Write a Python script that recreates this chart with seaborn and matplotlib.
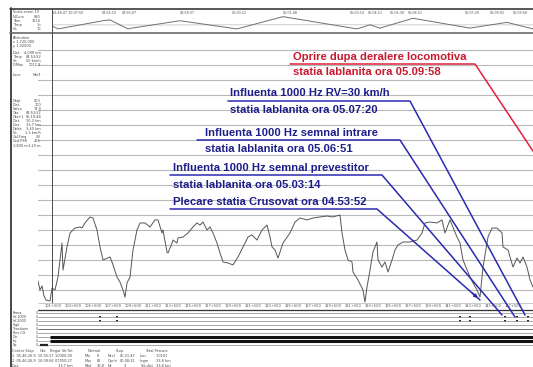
import matplotlib
matplotlib.use("Agg")
import matplotlib.pyplot as plt
import pandas as pd
import seaborn as sns

sns.set_theme(style="white")
plt.rcParams["font.family"] = ["DejaVu Sans"]

W, H = 533, 367

# ---- speed record: position along the line (km) and speed (km/h) ----
dist_km = [0.0, 0.2, 0.4, 0.6, 0.8, 1.2, 1.4, 1.7, 2.0, 2.4, 2.5, 2.9, 3.2, 3.7, 4.2, 4.4, 4.7,
           5.2, 5.5, 5.9, 6.2, 6.5, 7.2, 7.4, 7.9, 8.2, 8.5, 8.7, 8.9, 9.2, 9.5, 9.9, 10.2, 10.7,
           11.2, 11.7, 12.0, 12.4, 12.5, 12.9, 13.0, 13.4, 13.5, 13.9, 14.0, 14.5, 15.0, 15.5,
           15.9, 16.2, 16.5, 16.9, 17.2, 17.5, 17.9, 18.2, 18.5, 19.0, 19.5, 20.0, 20.5, 21.0,
           21.4, 21.9, 22.4, 22.9, 23.2, 23.4, 23.7, 24.0, 24.5, 25.2, 25.7, 26.2, 26.9, 27.5,
           28.2, 28.9, 29.5, 30.2, 30.4, 30.7, 31.0, 31.4, 31.5, 32.0, 32.5, 32.7, 32.9, 33.2,
           33.5, 33.9, 34.0, 34.4, 34.7, 35.0, 35.4, 35.7, 36.0, 36.5, 37.2, 37.9, 38.4, 38.7,
           39.2, 39.9, 40.4, 40.7, 41.2, 41.9, 42.2, 42.5, 43.2, 43.5, 43.9, 44.2, 44.5, 45.0,
           45.4, 45.9, 46.4, 46.5, 47.0, 47.5, 47.9, 48.2, 48.5, 48.9, 49.2, 49.5]
speed_kmh = [16, 10, 12.7, 6, 3.3, 2.7, 11.3, 10, 18.7, 41.3, 23.3, 38.7, 48, 51.3, 52, 51.3, 54.7,
             58.7, 58, 50, 38.7, 30, 32, 28.7, 18.7, 15.3, 10, 5.3, 14.7, 18.7, 36.7, 50, 54.7, 54.7,
             52, 56.7, 56.7, 48, 50, 35.3, 34.7, 41.3, 43.3, 41.3, 44.7, 45.3, 48, 52,
             54.7, 53.3, 55.3, 50, 52, 48, 41.3, 34.7, 28.7, 28, 26.7, 32, 38.7, 45.3,
             46.7, 43.3, 50, 53.3, 45.3, 38.7, 36.7, 31.3, 41.3, 48, 55.3, 58, 56.7, 58,
             58.7, 59.3, 58.7, 60, 48, 36.7, 30, 28.7, 22, 16.7, 10, 2, 12, 23.3,
             35.3, 42, 30, 25.3, 28.7, 22, 30, 36.7, 40, 42, 42, 43.3, 48, 54.7,
             55.3, 54.7, 56.7, 48, 56.7, 45.3, 41.3, 30, 18.7, 14.7, 10, 5.3, 25.3, 45.3,
             51.3, 51.3, 48, 38.7, 36.7, 25.3, 31.3, 28, 32, 25.3, 16.7, 12]

# ---- altitude profile of the route (m) ----
prof_km = [1.5, 2.0, 6.5, 7.2, 9.0, 9.4, 14.2, 19.9, 24.5, 31.9, 33.2, 34.2, 37.5, 43.2, 46.9, 49.5]
prof_alt = [280, 250, 350, 360, 250, 260, 350, 250, 400, 250, 300, 260, 380, 260, 330, 250]
prof2_km = [1.5, 12.0, 25.0, 38.0, 49.5]
prof2_alt = [300, 298, 302, 300, 299]

# ---- digital channels ----
channel_names = ["Frana", "Inf.1000", "Inf.2000", "Vigil.", "Tractiune", "Pres.CG", "Dir.", "Inj.", "Sp."]
event_km = [6.2, 7.9, 42.2, 43.2, 46.7, 47.9, 49.0]
event_ch1 = [1, 1, 1, 1, 1, 1, 1]
event_ch2 = [2, 2, 2, 2, 2, 2, 2]
active_ch = [6, 7]
active_from_km = 1.2
active_to_km = 49.5

# ---- position scale labels under the speed trace ----
scale_km = [1.5 + 2 * i for i in range(24)]
scale_labels = ["%d+%03d" % (100 + int(k), int(round((k % 1) * 1000))) for k in scale_km]

# ---- time marks above the altitude profile ----
time_marks_km = [1.4, 6.4, 8.4, 14.2, 19.4, 24.5, 31.2, 33.0, 35.2, 37.0, 42.7, 45.2, 47.5]
time_marks = ["04:48:47 10:07:50", "04:55:10", "04:56:07", "04:58:37", "05:00:12", "05:01:48",
              "05:03:14", "05:04:11", "05:05:30", "05:06:51", "05:07:20",
              "05:09:02", "05:09:58"]

# ---- callouts ----
red_lines = ["Oprire dupa deralere locomotiva", "statia Iablanita ora 05.09:58"]
blue_notes = [
    ["Influenta 1000 Hz RV=30 km/h", "statia Iablanita ora 05.07:20"],
    ["Influenta 1000 Hz semnal intrare", "statia Iablanita ora 05.06:51"],
    ["Influenta 1000 Hz semnal prevestitor", "statia Iablanita ora 05.03:14"],
    ["Plecare statia Crusovat ora 04.53:52"],
]

# ---- side panel and summary table ----
side_rows = [
    (12, "Scala zoom 10", ""), (17, "N.Curs", "880"), (21, "Tren", "3510"), (25, "Timp", "1h"),
    (29, "Vit.", "10"), (38, "Altitudine", ""), (42, "x 1:720,000", ""), (46, "y 1:32000", ""),
    (53, "Dist.", "4,098 km"), (57, "Timp", "04.53:52"), (61, "Vit.", "50 km/h"),
    (65, "D.Max", "1012,9"), (75, "Loco", "Nm3"),
    (101, "Depl.", "000"), (105, "Dist.", "100"), (109, "Salva", "17.0"), (113, "Ora", "04:53:52"),
    (117, "Ora+1", "05:10:48"), (121, "Dist.", "30,3 km"), (125, "Dist.", "33,7 km"),
    (129, "Delta", "3,40 km"), (133, "Vit.", "1,3 km/h"), (137, "Cal.Freq", "(B)"),
    (141, "Cod.PSB", "255"), (146, "1:800 m", "1:20 m"),
]
table_rows = [
    (351, [(12, "Contor Stop"), (40, "Ora"), (50, "Pregat"), (62, "Ver.Tot"), (88, "Normal"),
           (116, "Stop"), (145, "Total Percurs")]),
    (356, [(12, "1  05.46.26.9  10:05:17"), (55, "1,0300,00"), (85, "Min"), (97, "0"),
           (108, "Nr.cl"), (120, "00.21:47"), (140, "Lun."), (156, "1,0101")]),
    (361, [(12, "2  05.46.26.9  10:09:56"), (55, "0,7050,27"), (85, "Max"), (97, "61"),
           (108, "Opriri"), (120, "00.08:31"), (140, "Lrgm"), (156, "33,8 km")]),
    (366, [(12, "Dist."), (58, "33,7 km"), (85, "Med"), (97, "30,8"), (108, "Nr."),
           (124, "3"), (140, "Tot.dist"), (156, "33,8 km")]),
]


def px_rect(x0, y0, x1, y1):
    return [x0 / W, 1 - y1 / H, (x1 - x0) / W, (y1 - y0) / H]


fig = plt.figure(figsize=(W / 100, H / 100), dpi=100)
fig.patch.set_facecolor("white")

# speed trace
ax_main = fig.add_axes(px_rect(38, 35, 533, 303))
df = pd.DataFrame({"km": dist_km, "kmh": speed_kmh})
sns.lineplot(data=df, x="km", y="kmh", ax=ax_main, color="#555555", lw=0.7, zorder=3)
ax_main.set_xlim(0, 49.5)
ax_main.set_ylim((305 - 303) / 1.5, (305 - 35) / 1.5)
ax_main.set_yticks(range(10, 180, 10))
ax_main.yaxis.grid(True, color="#b8b8b8", lw=0.8)
ax_main.xaxis.grid(False)
ax_main.set_yticklabels([])
ax_main.set_xticks(scale_km)
ax_main.set_xticklabels(scale_labels, fontsize=2.6, color="#555555")
ax_main.tick_params(axis="x", length=0, pad=0.6)
ax_main.tick_params(axis="y", length=0)
ax_main.set_xlabel("")
ax_main.set_ylabel("")
for s in ax_main.spines.values():
    s.set_visible(False)
ax_main.patch.set_alpha(0)

# altitude profile strip
ax_top = fig.add_axes(px_rect(50, 15, 533, 33))
sns.lineplot(x=prof2_km, y=prof2_alt, ax=ax_top, color="#c8c8c8", lw=0.6)
sns.lineplot(x=prof_km, y=prof_alt, ax=ax_top, color="#707070", lw=0.7)
ax_top.set_xlim(1.2, 49.5)
ax_top.set_ylim(200, 420)
ax_top.axis("off")
for k, t in zip(time_marks_km, time_marks):
    ax_top.text(k, 1.0, t, transform=ax_top.get_xaxis_transform(), fontsize=2.4,
                color="#555555", va="bottom", ha="left")

# digital channels
ax_dig = fig.add_axes(px_rect(38, 310, 533, 347))
ax_dig.set_xlim(0, 49.5)
ax_dig.set_ylim(8.5, -0.75)
ax_dig.axis("off")
for i in range(len(channel_names)):
    col = "#9a9a9a" if i not in (4,) else "#555555"
    ax_dig.axhline(i, color=col, lw=0.6)
for c in active_ch:
    ax_dig.hlines(c, active_from_km, active_to_km, color="#111111", lw=2.2)
ax_dig.hlines(8, 0.2, 1.0, color="#222222", lw=1.6)
sns.scatterplot(x=event_km, y=event_ch1, ax=ax_dig, marker="s", s=3, color="#222222",
                linewidth=0)
sns.scatterplot(x=event_km, y=event_ch2, ax=ax_dig, marker="s", s=3, color="#222222",
                linewidth=0)

# overlay in pixel units for frame, side panel and callouts
ov = fig.add_axes([0, 0, 1, 1])
ov.set_xlim(0, W)
ov.set_ylim(H, 0)
ov.axis("off")
ov.patch.set_alpha(0)

ov.plot([10.5, 10.5], [8, H], color="#3a3a3a", lw=1.3)
ov.plot([10, W], [9, 9], color="#3a3a3a", lw=1.2)
ov.plot([10, W], [33, 33], color="#6a6a6a", lw=1.2)
ov.plot([51.5, 51.5], [9, 303], color="#4a4a4a", lw=0.7)
ov.plot([38, W], [303, 303], color="#c0c0c0", lw=0.6)
ov.plot([38, W], [310, 310], color="#333333", lw=0.9)

for y, lab, val in side_rows:
    ov.text(13, y, lab, fontsize=2.5, color="#444444", va="center", ha="left")
    if val:
        ov.text(41, y, val, fontsize=2.5, color="#444444", va="center", ha="right")
for i, name in enumerate(channel_names):
    ov.text(13, 313 + 4 * i, name, fontsize=2.4, color="#444444", va="center", ha="left")
    ov.text(36, 313 + 4 * i, "0", fontsize=2.2, color="#444444", va="center", ha="left")
for y, cells in table_rows:
    for x, t in cells:
        ov.text(x, y, t, fontsize=2.5, color="#444444", va="center", ha="left")

note_font = dict(family=["Liberation Sans Narrow", "Liberation Sans", "DejaVu Sans"],
                 fontweight="bold", fontsize=8.1)
blue_txt = "#1d1d8a"
blue_ln = "#2a2ab2"
red_txt = "#c8182e"
red_ln = "#e0203a"

# red callout
ov.text(293, 57, red_lines[0], color=red_txt, va="center", ha="left", **note_font)
ov.text(293, 72, red_lines[1], color=red_txt, va="center", ha="left", **note_font)
ov.plot([290, 475, 545], [64, 64, 169], color=red_ln, lw=1.1, clip_on=True)

# blue callouts: text anchor, underline start, bend, end
blue_geom = [
    ((230, 93, 110), (228, 101), (410, 101), (525, 315)),
    ((205, 133, 149), (197, 140), (400, 140), (515, 317)),
    ((173, 168, 185), (170, 175), (382, 175), (502, 315)),
    ((173, 202, None), (170, 209), (377, 209), (480, 300)),
]
for lines, (anc, start, bend, end) in zip(blue_notes, blue_geom):
    x, y1, y2 = anc
    ov.text(x, y1, lines[0], color=blue_txt, va="center", ha="left", **note_font)
    if y2 is not None and len(lines) > 1:
        ov.text(x, y2, lines[1], color=blue_txt, va="center", ha="left", **note_font)
    ov.plot([start[0], bend[0], end[0]], [start[1], bend[1], end[1]], color=blue_ln, lw=1.1)

ov.annotate("", xy=(480, 300), xytext=(470, 291),
            arrowprops=dict(arrowstyle="-|>", color=blue_ln, lw=1.1, mutation_scale=5))

fig.savefig("out.png", dpi=100, facecolor="white")
